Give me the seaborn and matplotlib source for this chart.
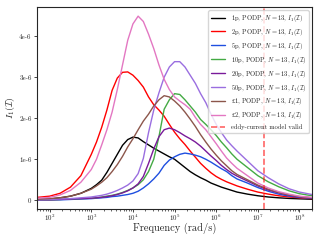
import numpy as np
import matplotlib
matplotlib.use("Agg")
import matplotlib.pyplot as plt
import seaborn as sns
from matplotlib.ticker import FuncFormatter

# frequency grid (rad/s)
freq = [5.0e1, 1.0e2, 1.778e2, 3.162e2, 5.623e2,
        1.0e3, 1.334e3, 1.778e3, 2.371e3, 3.162e3, 4.217e3, 5.623e3, 7.499e3,
        1.0e4, 1.334e4, 1.778e4, 2.371e4, 3.162e4, 4.217e4, 5.623e4, 7.499e4,
        1.0e5, 1.334e5, 1.778e5, 2.371e5, 3.162e5, 4.217e5, 5.623e5, 7.499e5,
        1.0e6, 1.334e6, 1.778e6, 2.371e6, 3.162e6,
        5.623e6, 1.0e7, 1.778e7, 3.162e7, 5.623e7, 1.0e8, 2.0e8]
xticks = [1e2, 1e3, 1e4, 1e5, 1e6, 1e7, 1e8]

# I1 values in units of 1e-6
p1 = [0.02, 0.03, 0.06, 0.10, 0.17,
      0.29, 0.38, 0.49, 0.68, 0.90, 1.12, 1.34, 1.48,
      1.54, 1.52, 1.43, 1.35, 1.27, 1.20, 1.13, 1.06,
      1.00, 0.90, 0.80, 0.70, 0.62, 0.55, 0.49, 0.42,
      0.37, 0.32, 0.28, 0.24, 0.20,
      0.15, 0.11, 0.08, 0.06, 0.045, 0.035, 0.025]
p2 = [0.07, 0.10, 0.17, 0.32, 0.60,
      1.12, 1.42, 1.78, 2.20, 2.68, 2.98, 3.12, 3.13,
      3.05, 2.92, 2.76, 2.52, 2.33, 2.20, 2.05, 1.85,
      1.66, 1.50, 1.36, 1.20, 1.05, 0.90, 0.78, 0.67,
      0.58, 0.51, 0.45, 0.40, 0.35,
      0.27, 0.20, 0.15, 0.11, 0.08, 0.06, 0.04]
p5 = [0.01, 0.01, 0.01, 0.02, 0.03,
      0.04, 0.05, 0.06, 0.07, 0.09, 0.10, 0.12, 0.14,
      0.17, 0.22, 0.30, 0.40, 0.52, 0.66, 0.85, 0.98,
      1.06, 1.12, 1.15, 1.13, 1.10, 1.06, 1.00, 0.93,
      0.85, 0.77, 0.70, 0.60, 0.52,
      0.42, 0.31, 0.22, 0.15, 0.10, 0.07, 0.05]
p10 = [0.01, 0.01, 0.02, 0.03, 0.04,
       0.05, 0.06, 0.08, 0.10, 0.12, 0.15, 0.19, 0.24,
       0.30, 0.38, 0.50, 0.70, 1.00, 1.55, 2.22, 2.45,
       2.60, 2.58, 2.45, 2.30, 2.15, 1.97, 1.85, 1.72,
       1.58, 1.42, 1.28, 1.13, 1.00,
       0.80, 0.60, 0.45, 0.33, 0.23, 0.16, 0.11]
p20 = [0.01, 0.01, 0.02, 0.03, 0.04,
       0.05, 0.06, 0.07, 0.09, 0.11, 0.14, 0.18, 0.23,
       0.30, 0.40, 0.58, 0.90, 1.25, 1.55, 1.72, 1.76,
       1.72, 1.65, 1.57, 1.50, 1.42, 1.32, 1.20, 1.08,
       0.97, 0.85, 0.75, 0.66, 0.59,
       0.47, 0.35, 0.25, 0.18, 0.12, 0.08, 0.06]
p50 = [0.015, 0.02, 0.03, 0.04, 0.06,
       0.08, 0.10, 0.12, 0.15, 0.19, 0.24, 0.30, 0.37,
       0.47, 0.65, 1.02, 1.65, 2.20, 2.62, 3.00, 3.25,
       3.38, 3.38, 3.25, 3.05, 2.85, 2.60, 2.38, 2.10,
       1.85, 1.65, 1.47, 1.33, 1.20,
       0.96, 0.72, 0.55, 0.40, 0.28, 0.20, 0.14]
pound1 = [0.025, 0.04, 0.06, 0.10, 0.17,
          0.27, 0.35, 0.44, 0.55, 0.70, 0.87, 1.07, 1.30,
          1.50, 1.72, 1.93, 2.10, 2.30, 2.45, 2.55, 2.52,
          2.42, 2.30, 2.15, 1.98, 1.80, 1.60, 1.42, 1.25,
          1.10, 0.96, 0.84, 0.72, 0.63,
          0.50, 0.37, 0.27, 0.19, 0.13, 0.09, 0.06]
pound2 = [0.05, 0.07, 0.13, 0.24, 0.44,
          0.75, 1.00, 1.35, 1.72, 2.15, 2.70, 3.30, 3.90,
          4.30, 4.49, 4.36, 4.05, 3.70, 3.30, 2.95, 2.70,
          2.52, 2.42, 2.33, 2.22, 2.02, 1.85, 1.72, 1.55,
          1.38, 1.20, 1.03, 0.90, 0.78,
          0.60, 0.42, 0.30, 0.21, 0.15, 0.10, 0.07]

coins = ["1p", "2p", "5p", "10p", "20p", "50p", r"$\sterling$1", r"$\sterling$2"]
series = [p1, p2, p5, p10, p20, p50, pound1, pound2]
colors = ["black", "red", "#1f4fe0", "#44aa44", "#7a1a9a", "#9a6ee0", "#8c564b", "#e377c2"]
valid_freq = 1.4e7

sns.set_style("ticks")
plt.rcParams["font.family"] = ["cmr10", "DejaVu Serif"]
plt.rcParams["mathtext.fontset"] = "cm"
plt.rcParams["axes.unicode_minus"] = False
plt.rcParams["axes.formatter.use_mathtext"] = True

fig, ax = plt.subplots(figsize=(3.2, 2.4), dpi=100)
fig.subplots_adjust(left=0.116, right=0.975, top=0.971, bottom=0.129)

for name, vals, c in zip(coins, series, colors):
    sns.lineplot(x=freq, y=np.array(vals) * 1e-6, color=c, lw=1.0, ax=ax,
                 label=name + r", PODP, $N=13$, $I_1(\mathcal{I})$")

ax.axvline(valid_freq, color="red", ls="--", lw=1.2, alpha=0.6,
           label="eddy-current model valid")

ax.set_xscale("log")
ax.set_xticks(xticks)
ax.set_xlim(freq[0], freq[-1])
ax.set_yticks([0, 1e-6, 2e-6, 3e-6, 4e-6])
ax.yaxis.set_major_formatter(FuncFormatter(lambda v, _: "0" if v == 0 else f"{v / 1e-6:.0f}e-6"))
ax.tick_params(labelsize=5, length=2.5, width=0.6, pad=1.5)
ax.tick_params(axis="x", pad=0.5)
ax.tick_params(which="minor", length=1.5, width=0.5)
ax.set_xlabel("Frequency (rad/s)", fontsize=7.5, labelpad=-0.5)
ax.set_ylabel(r"$I_1(\mathcal{I})$", fontsize=7, labelpad=1.5)
for s in ax.spines.values():
    s.set_linewidth(0.8)

ax.legend(loc="upper right", fontsize=4.7, handlelength=2.2, labelspacing=0.45,
          borderpad=0.4, framealpha=0.8)

fig.savefig("out.png", dpi=100)
